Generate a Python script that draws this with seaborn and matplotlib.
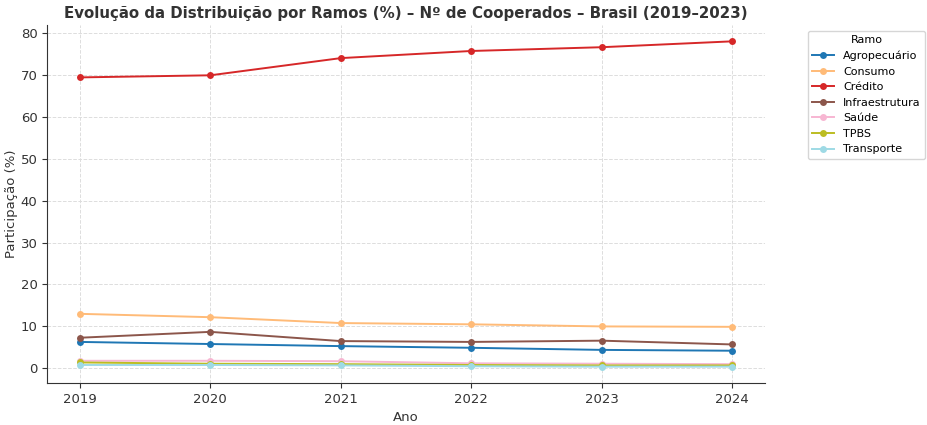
import pandas as pd
import matplotlib
matplotlib.use('Agg')
import matplotlib.pyplot as plt
import seaborn as sns


anos = [2019, 2020, 2021, 2022, 2023, 2024]
ramos = ['Agropecuário', 'Consumo', 'Crédito', 'Infraestrutura', 'Saúde', 'TPBS', 'Transporte']

agropecuario = [6.3, 5.8, 5.3, 4.9, 4.4, 4.2]
consumo = [13.0, 12.2, 10.8, 10.5, 10.0, 9.9]
credito = [69.4, 69.9, 74.0, 75.7, 76.6, 78.0]
infraestrutura = [7.3, 8.7, 6.5, 6.3, 6.6, 5.7]
saude = [1.8, 1.8, 1.7, 1.2, 1.1, 1.0]
tpbs = [1.4, 1.1, 1.0, 0.8, 0.7, 0.7]
transporte = [0.8, 0.8, 0.7, 0.5, 0.4, 0.4]

cores = ['#1f77b4', '#ffbb78', '#d62728', '#8c564b', '#f7b6d2', '#bcbd22', '#9edae5']


def build_df():
	series = [agropecuario, consumo, credito, infraestrutura, saude, tpbs, transporte]
	rows = []
	for ramo, vals in zip(ramos, series):
		for ano, v in zip(anos, vals):
			rows.append({'Ano': ano, 'Ramo': ramo, 'Participação (%)': v})
	return pd.DataFrame(rows)


df = build_df()

fig, ax = plt.subplots(figsize = (9.27, 4.25), dpi = 100)
sns.lineplot(data = df, x = 'Ano', y = 'Participação (%)', hue = 'Ramo', hue_order = ramos,
	palette = cores, marker = 'o', markersize = 5, markeredgewidth = 0, linewidth = 1.4, ax = ax)

ax.set_title('Evolução da Distribuição por Ramos (%) – Nº de Cooperados – Brasil (2019–2023)',
	fontsize = 10.8, fontweight = 'bold', color = '#333333', pad = 5)
ax.set_xlabel('Ano', fontsize = 9.5, color = '#333333')
ax.set_ylabel('Participação (%)', fontsize = 9.5, color = '#333333', labelpad = 2)
ax.set_xticks(anos)
ax.tick_params(labelsize = 9.5, colors = '#333333')
ax.grid(True, linestyle = '--', color = '#dddddd', linewidth = 0.7)
ax.spines['top'].set_visible(False)
ax.spines['right'].set_visible(False)
ax.spines['left'].set_color('#333333')
ax.spines['bottom'].set_color('#333333')

leg = ax.legend(title = 'Ramo', bbox_to_anchor = (1.052, 1.0), loc = 'upper left', fontsize = 8, title_fontsize = 8)

fig.subplots_adjust(left = 0.051, right = 0.825, bottom = 0.099, top = 0.941)
fig.savefig('out.png', dpi = 100)
plt.close()
